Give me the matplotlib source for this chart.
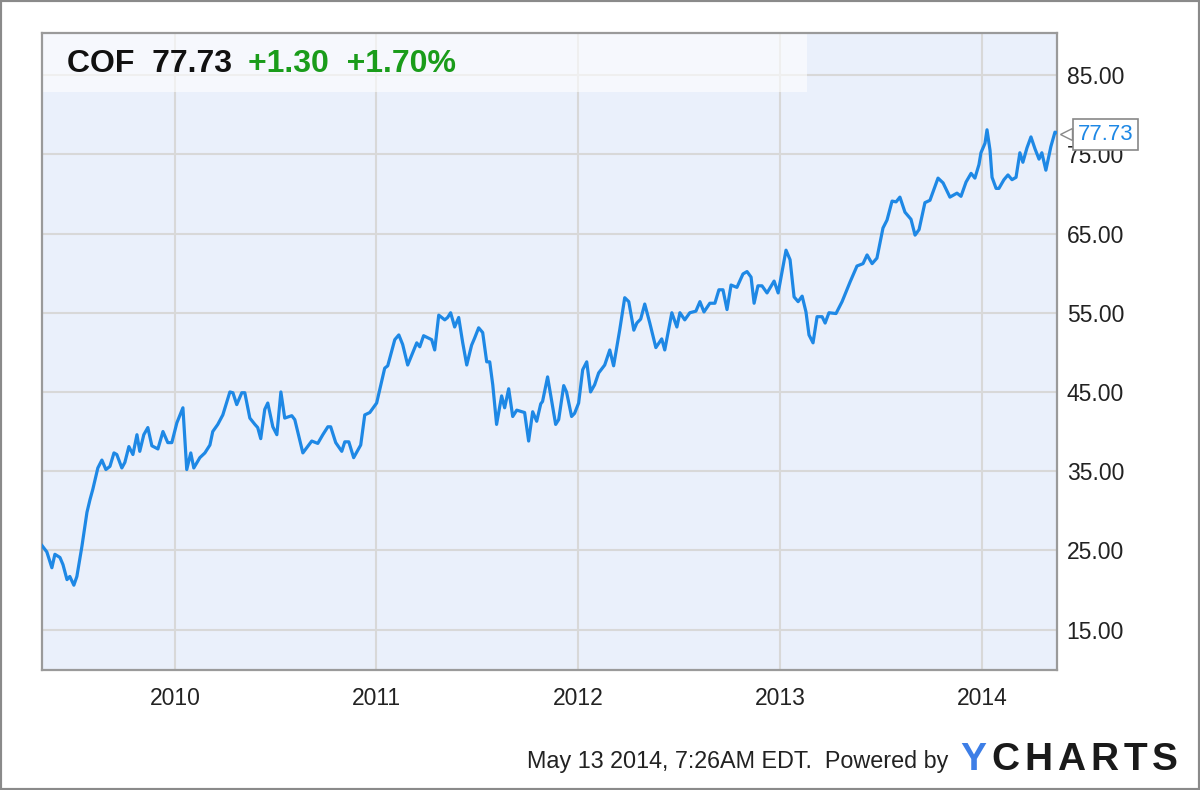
import datetime as dt
import matplotlib
matplotlib.use("Agg")
import matplotlib.pyplot as plt
import matplotlib.dates as mdates
from matplotlib.patches import Rectangle

plt.rcParams['font.family'] = ['Liberation Sans', 'DejaVu Sans']

# COF weekly close, dates as decimal years
years = [
    2009.341, 2009.365, 2009.390, 2009.405, 2009.430, 2009.445, 2009.465, 2009.479,
    2009.499, 2009.514, 2009.539, 2009.564, 2009.579, 2009.593, 2009.618, 2009.638,
    2009.658, 2009.678, 2009.698, 2009.712, 2009.737, 2009.752, 2009.772, 2009.792,
    2009.812, 2009.826, 2009.846, 2009.866, 2009.886, 2009.916, 2009.941, 2009.965,
    2009.985, 2010.010, 2010.040, 2010.059, 2010.079, 2010.094, 2010.124, 2010.149,
    2010.174, 2010.188, 2010.213, 2010.238, 2010.273, 2010.288, 2010.307, 2010.332,
    2010.347, 2010.372, 2010.397, 2010.411, 2010.426, 2010.446, 2010.461, 2010.486,
    2010.506, 2010.526, 2010.545, 2010.580, 2010.595, 2010.635, 2010.679, 2010.709,
    2010.734, 2010.759, 2010.773, 2010.798, 2010.828, 2010.843, 2010.863, 2010.887,
    2010.922, 2010.942, 2010.967, 2011.001, 2011.041, 2011.056, 2011.091, 2011.111,
    2011.130, 2011.155, 2011.200, 2011.215, 2011.234, 2011.274, 2011.289, 2011.309,
    2011.339, 2011.353, 2011.368, 2011.388, 2011.408, 2011.428, 2011.448, 2011.472,
    2011.487, 2011.507, 2011.527, 2011.547, 2011.562, 2011.577, 2011.596, 2011.621,
    2011.636, 2011.656, 2011.676, 2011.696, 2011.735, 2011.755, 2011.775, 2011.795,
    2011.815, 2011.824, 2011.849, 2011.889, 2011.904, 2011.929, 2011.943, 2011.968,
    2011.983, 2012.003, 2012.023, 2012.043, 2012.062, 2012.082, 2012.102, 2012.132,
    2012.157, 2012.176, 2012.206, 2012.231, 2012.251, 2012.276, 2012.291, 2012.310,
    2012.330, 2012.355, 2012.385, 2012.414, 2012.429, 2012.464, 2012.489, 2012.504,
    2012.528, 2012.553, 2012.583, 2012.603, 2012.623, 2012.652, 2012.677, 2012.697,
    2012.717, 2012.737, 2012.757, 2012.786, 2012.816, 2012.836, 2012.856, 2012.871,
    2012.890, 2012.910, 2012.935, 2012.970, 2012.990, 2013.029, 2013.049, 2013.069,
    2013.089, 2013.109, 2013.128, 2013.143, 2013.163, 2013.183, 2013.208, 2013.223,
    2013.242, 2013.277, 2013.307, 2013.347, 2013.381, 2013.411, 2013.431, 2013.456,
    2013.480, 2013.510, 2013.530, 2013.555, 2013.575, 2013.594, 2013.619, 2013.649,
    2013.669, 2013.689, 2013.718, 2013.743, 2013.783, 2013.808, 2013.842, 2013.877,
    2013.897, 2013.922, 2013.947, 2013.966, 2013.986, 2013.996, 2014.016, 2014.026,
    2014.041, 2014.051, 2014.071, 2014.085, 2014.110, 2014.130, 2014.150, 2014.170,
    2014.189, 2014.204, 2014.224, 2014.244, 2014.264, 2014.284, 2014.298, 2014.318,
    2014.343, 2014.363, 2014.373,
]
prices = [
    25.6, 24.8, 22.8, 24.5, 24.1, 23.2, 21.3, 21.7,
    20.6, 21.7, 25.5, 29.8, 31.4, 32.7, 35.4, 36.4,
    35.2, 35.6, 37.3, 37.1, 35.4, 36.1, 38.1, 37.1,
    39.6, 37.5, 39.6, 40.5, 38.2, 37.8, 40.0, 38.6,
    38.6, 41.1, 43.0, 35.2, 37.3, 35.4, 36.7, 37.3,
    38.3, 40.0, 40.9, 42.1, 45.0, 44.9, 43.4, 44.9,
    44.9, 41.7, 40.9, 40.5, 39.1, 42.8, 43.6, 40.6,
    39.6, 45.0, 41.7, 42.0, 41.5, 37.3, 38.8, 38.5,
    39.6, 40.6, 40.6, 38.6, 37.5, 38.7, 38.7, 36.7,
    38.3, 42.1, 42.4, 43.6, 48.0, 48.3, 51.6, 52.2,
    51.0, 48.4, 51.2, 50.7, 52.1, 51.6, 50.3, 54.7,
    54.1, 54.4, 55.0, 53.2, 54.4, 51.2, 48.4, 50.9,
    51.8, 53.1, 52.5, 48.8, 48.8, 45.9, 40.9, 44.5,
    43.0, 45.4, 41.9, 42.7, 42.4, 38.8, 42.5, 41.3,
    43.5, 43.8, 46.9, 40.9, 41.5, 45.8, 45.0, 41.9,
    42.3, 43.6, 47.8, 48.8, 45.0, 45.9, 47.4, 48.4,
    50.3, 48.3, 52.8, 56.9, 56.4, 52.8, 53.7, 54.2,
    56.1, 53.7, 50.6, 51.7, 50.3, 55.0, 53.2, 55.0,
    54.1, 55.0, 55.2, 56.4, 55.1, 56.2, 56.2, 57.9,
    57.9, 55.4, 58.5, 58.2, 59.9, 60.2, 59.5, 56.2,
    58.4, 58.4, 57.5, 59.0, 57.5, 62.9, 61.7, 57.0,
    56.4, 57.1, 55.1, 52.2, 51.2, 54.5, 54.5, 53.7,
    55.0, 54.9, 56.4, 58.9, 60.9, 61.2, 62.3, 61.2,
    61.9, 65.7, 66.7, 69.1, 69.0, 69.6, 67.7, 66.8,
    64.8, 65.5, 68.9, 69.2, 72.0, 71.4, 69.6, 70.1,
    69.7, 71.5, 72.6, 72.0, 73.7, 75.2, 76.4, 78.1,
    75.5, 72.1, 70.7, 70.7, 71.8, 72.4, 71.8, 72.1,
    75.2, 74.0, 75.8, 77.2, 75.7, 74.4, 75.2, 73.0,
    76.0, 77.8, 77.73,
]
ticker = "COF"
last_price = "77.73"
change = "+1.30"
change_pct = "+1.70%"
y_ticks = [15, 25, 35, 45, 55, 65, 75, 85]
x_tick_years = [2010, 2011, 2012, 2013, 2014]


def to_num(y):
    yr = int(y)
    start = dt.datetime(yr, 1, 1)
    ndays = (dt.datetime(yr + 1, 1, 1) - start).days
    return mdates.date2num(start + dt.timedelta(days=(y - yr) * ndays))


dates = [to_num(y) for y in years]

fig = plt.figure(figsize=(12, 7.9), dpi=100)
fig.patch.set_facecolor('white')
ax = fig.add_axes([0.035, 0.152, 0.8458, 0.806])
ax.set_facecolor('#EAF0FB')

ax.plot(dates, prices, color='#1E88E5', lw=2.3, solid_joinstyle='round', zorder=3)

ax.set_xlim(to_num(2009.341), to_num(2014.373))
ax.set_ylim(9.9, 90.3)
ax.set_yticks(y_ticks)
ax.set_yticklabels([f"{v:.2f}" for v in y_ticks])
ax.set_xticks([mdates.date2num(dt.datetime(y, 1, 1)) for y in x_tick_years])
ax.set_xticklabels([str(y) for y in x_tick_years])
ax.yaxis.tick_right()
ax.tick_params(axis='y', length=0, pad=7, labelsize=16.5, labelcolor='#222222')
ax.tick_params(axis='x', length=0, pad=12, labelsize=16.5, labelcolor='#222222')
ax.grid(True, color='#D8D8D8', lw=1.5, zorder=0)
ax.set_axisbelow(True)
for side in ['left', 'bottom', 'top', 'right']:
    ax.spines[side].set_color('#9A9A9A')
    ax.spines[side].set_linewidth(1.6)

# translucent header band
ax.add_patch(Rectangle((0, 0.907), 0.754, 0.093, transform=ax.transAxes,
                       facecolor='white', alpha=0.6, lw=0, zorder=2))
ax.text(0.025, 0.951, ticker + "  " + last_price, transform=ax.transAxes,
        fontsize=23, fontweight='bold', color='#111111', va='center', zorder=4)
ax.text(0.203, 0.951, change + "  " + change_pct, transform=ax.transAxes,
        fontsize=23, fontweight='bold', color='#1A9C1A', va='center', zorder=4)

# last value callout
ax.annotate(last_price, xy=(1.0, float(last_price)), xycoords=('axes fraction', 'data'),
            xytext=(15, -1.5), textcoords='offset points', va='center', ha='left',
            fontsize=16, color='#1E88E5', annotation_clip=False,
            bbox=dict(boxstyle='square,pad=0.22', fc='white', ec='#888888', lw=1.2),
            zorder=5)
ax.plot([1.0085], [float(last_price) - 0.2], marker='<', ms=8, mfc='white', mec='#888888',
        mew=1.0, transform=ax.get_yaxis_transform(), clip_on=False, zorder=6)

fig.text(0.439, 0.036, "May 13 2014, 7:26AM EDT.  Powered by", fontsize=16.8,
         color='#222222', va='center', ha='left')

# YCHARTS logo, letters spaced out
renderer = fig.canvas.get_renderer()
x = 960
for i, ch in enumerate("YCHARTS"):
    t = fig.text(x / 1200, 0.038, ch, fontsize=28, fontweight='bold',
                 color='#3D7EE6' if i == 0 else '#1A1A1A', va='center', ha='left')
    x = t.get_window_extent(renderer).x1 + 5

fig.patches.append(Rectangle((0, 0), 1, 1, transform=fig.transFigure, fill=False,
                             ec='#8A8A8A', lw=3))

fig.savefig('out.png', dpi=100)
